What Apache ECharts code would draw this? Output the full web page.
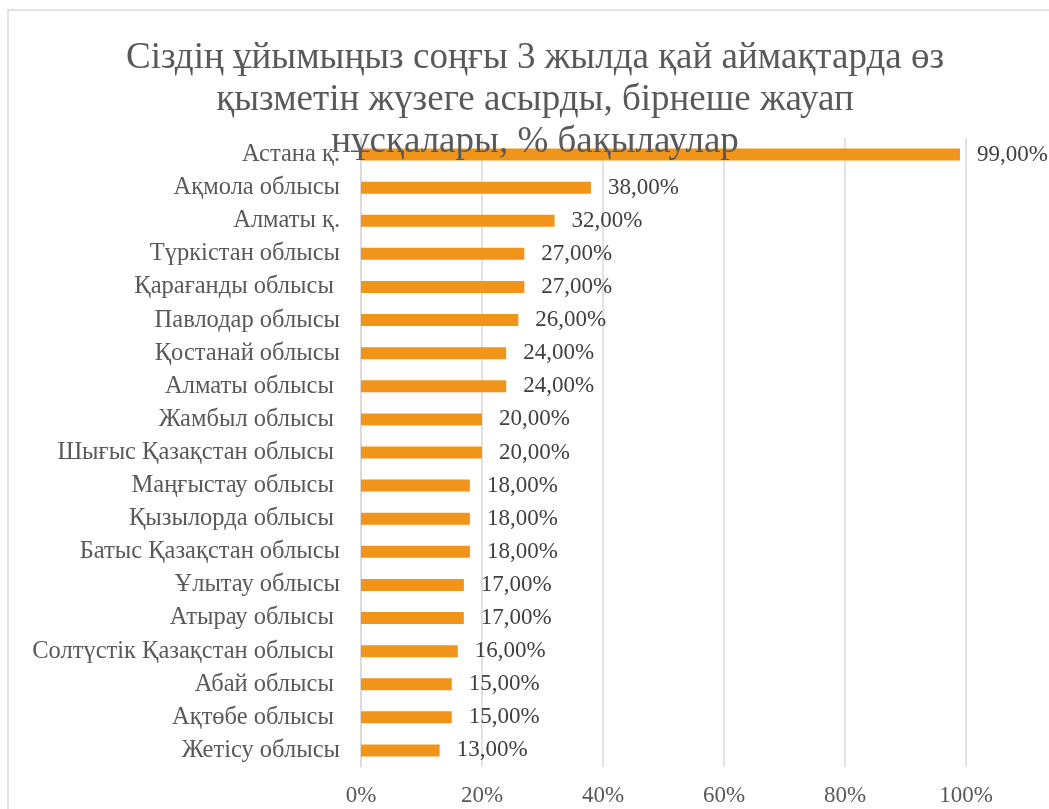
<!DOCTYPE html>
<html>
<head>
<meta charset="utf-8">
<script src="https://cdn.jsdelivr.net/npm/echarts@6/dist/echarts.min.js"></script>
<style>
  html, body { margin: 0; padding: 0; background: #fff; overflow: hidden; }
  #chart { width: 1049px; height: 809px; }
</style>
</head>
<body>
<div id="chart"></div>
<script>
// аймақтар (кейбір атауларда соңында бос орын бар, түпнұсқадағыдай)
var regions = [
  'Астана қ.',
  'Ақмола облысы',
  'Алматы қ.',
  'Түркістан облысы',
  'Қарағанды облысы ',
  'Павлодар облысы',
  'Қостанай облысы',
  'Алматы облысы ',
  'Жамбыл облысы ',
  'Шығыс Қазақстан облысы ',
  'Маңғыстау облысы ',
  'Қызылорда облысы ',
  'Батыс Қазақстан облысы',
  'Ұлытау облысы',
  'Атырау облысы ',
  'Солтүстік Қазақстан облысы ',
  'Абай облысы ',
  'Ақтөбе облысы ',
  'Жетісу облысы'
];
// пайыздар
var shares = [99, 38, 32, 27, 27, 26, 24, 24, 20, 20, 18, 18, 18, 17, 17, 16, 15, 15, 13];
var axisTicks = [0, 20, 40, 60, 80, 100];

var titleText = 'Сіздің ұйымыңыз соңғы 3 жылда қай аймақтарда өз\nқызметін жүзеге асырды, бірнеше жауап\nнұсқалары, % бақылаулар';
var serif = 'Liberation Serif';

var myChart = echarts.init(document.getElementById('chart'));
var option = {
  animation: false,
  backgroundColor: '#fff',
  graphic: [{
    type: 'rect',
    z: -10,
    shape: { x: 8, y: 10, width: 1100, height: 900 },
    style: { fill: 'none', stroke: '#d9d9d9', lineWidth: 1.5 }
  }],
  title: {
    text: titleText,
    left: 535,
    textAlign: 'center',
    top: 37,
    padding: 0,
    z: 10,
    textStyle: {
      fontFamily: serif,
      fontSize: 37,
      fontWeight: 'normal',
      color: '#595959',
      lineHeight: 42
    }
  },
  grid: { left: 361, right: 83, top: 138, bottom: 42, containLabel: false },
  xAxis: {
    type: 'value',
    min: axisTicks[0],
    max: axisTicks[axisTicks.length - 1],
    interval: 20,
    axisLine: { show: false },
    axisTick: { show: false },
    axisLabel: {
      formatter: '{value}%',
      fontFamily: serif,
      fontSize: 23,
      color: '#595959',
      margin: 17
    },
    splitLine: { lineStyle: { color: '#d9d9d9', width: 1.5 } }
  },
  yAxis: {
    type: 'category',
    inverse: true,
    data: regions,
    axisLine: { lineStyle: { color: '#d9d9d9', width: 1.5 } },
    axisTick: { show: false },
    axisLabel: {
      fontFamily: serif,
      fontSize: 24.5,
      color: '#595959',
      margin: 21,
      padding: [3, 0, 0, 0],
      interval: 0
    }
  },
  series: [{
    type: 'bar',
    data: shares,
    barWidth: 12,
    itemStyle: { color: '#f0951a' },
    label: {
      show: true,
      position: 'right',
      distance: 17,
      fontFamily: serif,
      fontSize: 23,
      color: '#404040',
      formatter: function (p) {
        return p.value.toFixed(2).replace('.', ',') + '%';
      }
    }
  }]
};
myChart.setOption(option);
</script>
</body>
</html>
